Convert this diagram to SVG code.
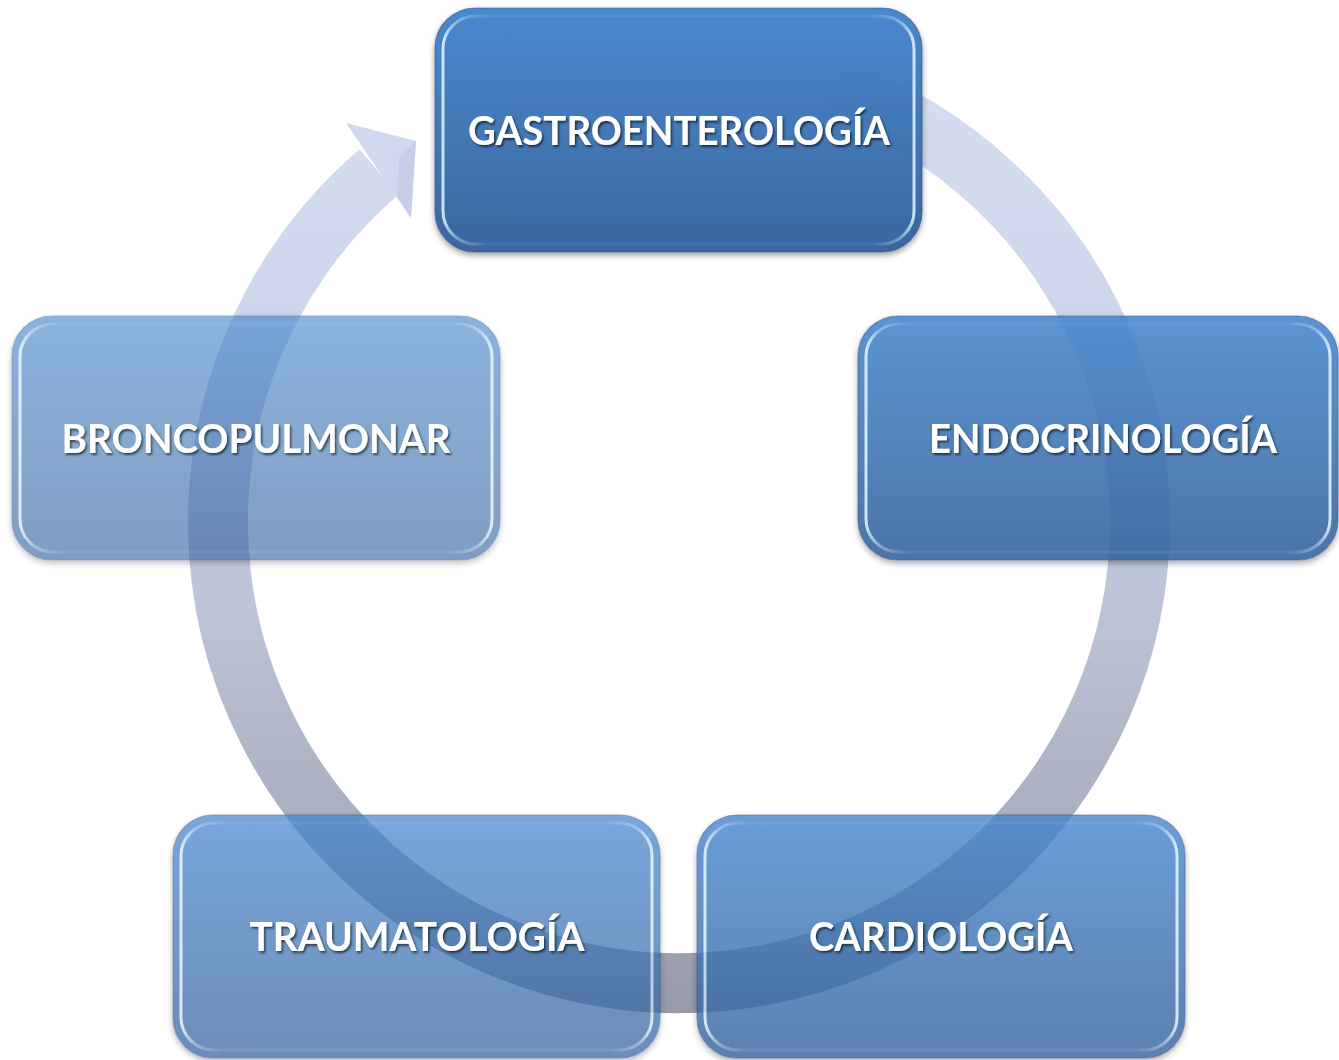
<svg xmlns="http://www.w3.org/2000/svg" width="1339" height="1060" viewBox="0 0 1339 1060">
<defs>
<linearGradient id="ringG" gradientUnits="userSpaceOnUse" x1="0" y1="31" x2="0" y2="1013">
<stop offset="0" stop-color="#D6DFF1"/>
<stop offset="0.3" stop-color="#CDD6EB"/>
<stop offset="0.6" stop-color="#BDC3D7"/>
<stop offset="1" stop-color="#969AAA"/>
</linearGradient>
<linearGradient id="boxG" x1="0" y1="0" x2="0" y2="1">
<stop offset="0" stop-color="#4585CE"/>
<stop offset="0.5" stop-color="#3D74B4"/>
<stop offset="1" stop-color="#34619E"/>
</linearGradient>
<linearGradient id="hlG" x1="0" y1="0" x2="1" y2="0">
<stop offset="0" stop-color="#E6F8FF" stop-opacity="0.85"/>
<stop offset="0.03" stop-color="#CDEFFF" stop-opacity="0.4"/>
<stop offset="0.09" stop-color="#CDEFFF" stop-opacity="0.08"/>
<stop offset="0.91" stop-color="#CDEFFF" stop-opacity="0.08"/>
<stop offset="0.97" stop-color="#CDEFFF" stop-opacity="0.4"/>
<stop offset="1" stop-color="#E6F8FF" stop-opacity="0.85"/>
</linearGradient>
<filter id="boxSh" x="-10%" y="-10%" width="120%" height="125%">
<feDropShadow dx="0" dy="3" stdDeviation="3" flood-color="#000" flood-opacity="0.4"/>
</filter>
<filter id="txtSh" x="-10%" y="-40%" width="120%" height="180%">
<feDropShadow dx="1.5" dy="2" stdDeviation="1.3" flood-color="#000" flood-opacity="0.6"/>
</filter>
</defs>
<style>
.box{fill:url(#boxG);stroke:#284A7C;stroke-opacity:0.55;stroke-width:1.2;filter:url(#boxSh)}
.hl{fill:none;stroke:url(#hlG);stroke-width:3}
.lbl{font-family:"Lato","Open Sans","Liberation Sans",sans-serif;font-weight:bold;font-size:41px;fill:#FFFFFF;text-anchor:middle;filter:url(#txtSh)}
</style>
<rect width="1339" height="1060" fill="#FFFFFF"/>
<g id="connectors">
<path d="M 832.9 87.5 A 461 461 0 1 1 379.0 172.0" fill="none" stroke="url(#ringG)" stroke-width="60"/>
<polygon points="346,123 416,141 411,218" fill="#D0D9EE"/>
<polygon points="399,158 416,141 411,218 397,197" fill="#BCC5DD" opacity="0.5"/>
</g>
<g id="node-gastroenterologia">
<g opacity="0.97">
<rect class="box" x="435" y="8" width="487" height="244" rx="40"/>
<rect class="hl" x="443" y="16" width="471" height="228" rx="33"/>
</g>
<text class="lbl" x="679" y="145" textLength="422" lengthAdjust="spacingAndGlyphs">GASTROENTEROLOGÍA</text>
</g>
<g id="node-endocrinologia">
<g opacity="0.88">
<rect class="box" x="858" y="316" width="480" height="244" rx="40"/>
<rect class="hl" x="866" y="324" width="464" height="228" rx="33"/>
</g>
<text class="lbl" x="1103" y="453" textLength="348" lengthAdjust="spacingAndGlyphs">ENDOCRINOLOGÍA</text>
</g>
<g id="node-cardiologia">
<g opacity="0.8">
<rect class="box" x="697" y="815" width="488" height="243" rx="40"/>
<rect class="hl" x="705" y="823" width="472" height="227" rx="33"/>
</g>
<text class="lbl" x="941" y="951" textLength="264" lengthAdjust="spacingAndGlyphs">CARDIOLOGÍA</text>
</g>
<g id="node-traumatologia">
<g opacity="0.72">
<rect class="box" x="173" y="815" width="487" height="243" rx="40"/>
<rect class="hl" x="181" y="823" width="471" height="227" rx="33"/>
</g>
<text class="lbl" x="417" y="951" textLength="335" lengthAdjust="spacingAndGlyphs">TRAUMATOLOGÍA</text>
</g>
<g id="node-broncopulmonar">
<g opacity="0.62">
<rect class="box" x="12" y="316" width="488" height="244" rx="40"/>
<rect class="hl" x="20" y="324" width="472" height="228" rx="33"/>
</g>
<text class="lbl" x="256" y="453" textLength="389" lengthAdjust="spacingAndGlyphs">BRONCOPULMONAR</text>
</g>
</svg>
